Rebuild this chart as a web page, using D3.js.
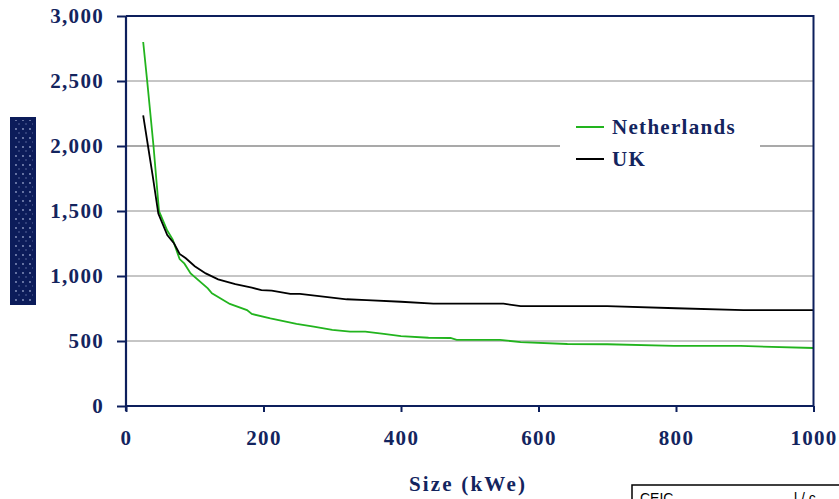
<!DOCTYPE html>
<html>
<head>
<meta charset="utf-8">
<script src="https://cdn.jsdelivr.net/npm/d3@7"></script>
<style>
  body { margin: 0; background: #fff; }
  svg { display: block; }
  .tick text { font-family: "Liberation Serif", "Times New Roman", serif; font-weight: bold; font-size: 21px; letter-spacing: 1.3px; fill: #13245e; }
</style>
</head>
<body>
<svg id="chart" width="839" height="499"></svg>
<script>
/* Data */
const SERIES = ['Netherlands', 'UK']
const COLORS = ['#22b41e', '#000000']
const nlSize = [25, 31, 40, 48, 60, 68, 78, 85, 94, 119, 125, 151, 176, 183, 210, 248, 273, 300, 326, 348, 375, 400, 440, 472, 481, 544, 574, 642, 700, 797, 894, 1000]
const nlCost = [2800, 2490, 2000, 1500, 1350, 1280, 1130, 1095, 1020, 905, 867, 785, 738, 708, 674, 631, 610, 585, 572, 572, 554, 538, 525, 523, 508, 508, 492, 477, 475, 462, 462, 446]
const ukSize = [25, 32, 39, 47, 60, 70, 78, 87, 100, 116, 134, 159, 183, 197, 212, 239, 253, 321, 350, 400, 447, 549, 574, 700, 800, 898, 1000]
const ukCost = [2235, 2000, 1765, 1480, 1315, 1250, 1170, 1136, 1075, 1020, 974, 938, 910, 892, 887, 862, 862, 821, 815, 802, 787, 787, 769, 769, 752, 738, 738]
const xTicks = [0, 200, 400, 600, 800, 1000]
const yTicks = [0, 500, 1000, 1500, 2000, 2500, 3000]

const NAVY = '#0d1f5c'
const svg = d3.select('#chart')
const x = d3.scaleLinear().domain([0, 1000]).range([126, 813.5])
const y = d3.scaleLinear().domain([0, 3000]).range([406, 16])

// gridlines
svg.append('g').selectAll('line')
  .data(yTicks.filter(d => d > 0 && d < 3000))
  .enter().append('line')
  .attr('x1', x(0)).attr('x2', x(1000))
  .attr('y1', d => y(d)).attr('y2', d => y(d))
  .attr('stroke', '#8c8c8c')
  .attr('stroke-width', d => d === 2000 ? 1.6 : 1)

// legend backdrop hides the grid
svg.append('rect')
  .attr('x', 560).attr('y', 106).attr('width', 200).attr('height', 76)
  .attr('fill', '#fff')

// lines
const line = d3.line().x(d => x(d[0])).y(d => y(d[1]))
const data = [d3.zip(nlSize, nlCost), d3.zip(ukSize, ukCost)]
data.forEach((s, i) => {
  svg.append('path')
    .datum(s)
    .attr('d', line)
    .attr('fill', 'none')
    .attr('stroke', COLORS[i])
    .attr('stroke-width', 1.8)
})

// frame
svg.append('path')
  .attr('d', `M${x(0)},${y(3000)}H${x(1000)}V${y(0)}`)
  .attr('fill', 'none').attr('stroke', NAVY).attr('stroke-width', 2)

// axes
const yAxis = svg.append('g')
  .attr('transform', `translate(${x(0)},0)`)
  .call(d3.axisLeft(y).tickValues(yTicks).tickFormat(d3.format(',')).tickSize(9).tickPadding(13))
const xAxis = svg.append('g')
  .attr('transform', `translate(0,${y(0)})`)
  .call(d3.axisBottom(x).tickValues(xTicks).tickFormat(d3.format('d')).tickSize(6).tickPadding(18))
;[yAxis, xAxis].forEach(a => {
  a.select('.domain').attr('stroke', NAVY).attr('stroke-width', 2.2)
  a.selectAll('.tick line').attr('stroke', NAVY).attr('stroke-width', 2)
})
xAxis.select('.domain').attr('d', `M${x(0)},0H${x(1000)}`)
yAxis.select('.domain').attr('d', `M0,${y(0) + 5}V${y(3000)}`)

// x title
svg.append('text')
  .attr('x', 468).attr('y', 491)
  .attr('text-anchor', 'middle')
  .style('font-family', '"Liberation Serif", serif')
  .style('font-weight', 'bold').style('font-size', '21px')
  .style('letter-spacing', '2.2px')
  .attr('fill', '#13245e')
  .text('Size (kWe)')

// y title block (garbled image in the source)
const defs = svg.append('defs')
const pat = defs.append('pattern')
  .attr('id', 'dots').attr('width', 7).attr('height', 9)
  .attr('patternUnits', 'userSpaceOnUse')
pat.append('circle').attr('cx', 2).attr('cy', 3).attr('r', 0.9).attr('fill', '#8f9bc4')
pat.append('circle').attr('cx', 5).attr('cy', 7).attr('r', 0.7).attr('fill', '#6f7cad')
svg.append('rect').attr('x', 10).attr('y', 117).attr('width', 26).attr('height', 188).attr('fill', '#0c1c5a')
svg.append('rect').attr('x', 13).attr('y', 120).attr('width', 20).attr('height', 182).attr('fill', 'url(#dots)')

// legend
SERIES.forEach((name, i) => {
  const ly = 127 + i * 32
  svg.append('line')
    .attr('x1', 576).attr('x2', 604).attr('y1', ly).attr('y2', ly)
    .attr('stroke', COLORS[i]).attr('stroke-width', 2)
  svg.append('text')
    .attr('x', 612).attr('y', ly + 7)
    .style('font-family', '"Liberation Serif", serif')
    .style('font-weight', 'bold').style('font-size', '21px')
    .style('letter-spacing', '1.3px')
    .attr('fill', '#13245e')
    .text(name)
})

// cut-off note box at bottom right
svg.append('rect')
  .attr('x', 632).attr('y', 485).attr('width', 220).attr('height', 30)
  .attr('fill', '#fff').attr('stroke', '#000').attr('stroke-width', 1.5)
svg.append('text')
  .attr('x', 640).attr('y', 503)
  .style('font-family', '"Liberation Sans", Arial, sans-serif')
  .style('font-size', '14px')
  .attr('fill', '#000')
  .text('CEIC')
svg.append('text')
  .attr('x', 794).attr('y', 503)
  .style('font-family', '"Liberation Sans", Arial, sans-serif')
  .style('font-size', '14px')
  .attr('fill', '#000')
  .text('l / c')
</script>
</body>
</html>
